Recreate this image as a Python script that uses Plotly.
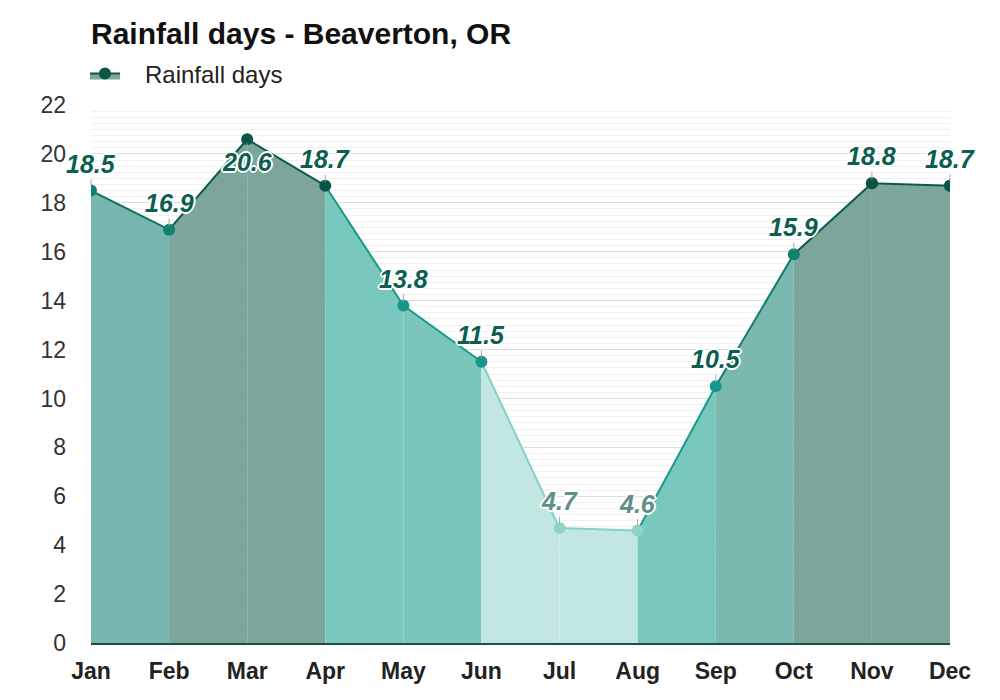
import plotly.graph_objects as go

months = ["Jan", "Feb", "Mar", "Apr", "May", "Jun", "Jul", "Aug", "Sep", "Oct", "Nov", "Dec"]
rain_days = [18.5, 16.9, 20.6, 18.7, 13.8, 11.5, 4.7, 4.6, 10.5, 15.9, 18.8, 18.7]

# colour per interval (left month) and per point
seg_fill = ["#76b6ac", "#7ca59c", "#7ca59c", "#78c8bd", "#7ac6bb", "#c2e6e2",
            "#c2e6e2", "#78c8bd", "#7bb9af", "#7ca59c", "#7ca59c"]
seg_line = ["#0f7464", "#0d5a4b", "#0d5a4b", "#169a8b", "#169a8b", "#86d1c7",
            "#86d1c7", "#169a8b", "#0f7d6d", "#0d5a4b", "#0d5a4b"]
point_color = ["#10806f", "#10806f", "#0c5446", "#0c5446", "#17968a", "#17968a",
               "#8fd3ca", "#8fd3ca", "#17968a", "#10806f", "#0c5446", "#0c5446"]
label_color = ["#0b5e50"] * 6 + ["#5e8f89", "#5e8f89"] + ["#0b5e50"] * 4
label_offset = [-27, -27, 23, -27, -27, -27, -27, -27, -27, -27, -27, -27]

fig = go.Figure()

for i in range(len(months) - 1):
    legend_seg = i == 10
    fig.add_trace(go.Scatter(
        x=months[i:i + 2], y=rain_days[i:i + 2],
        mode="lines+markers" if legend_seg else "lines",
        fill="tozeroy", fillcolor=seg_fill[i],
        line=dict(color=seg_line[i], width=2),
        marker=dict(color=point_color[i], size=12),
        name="\u00a0\u00a0\u00a0Rainfall days", showlegend=legend_seg, hoverinfo="skip",
    ))

fig.add_trace(go.Scatter(
    x=months, y=rain_days, mode="markers",
    marker=dict(color=point_color, size=12),
    showlegend=False, name="Rainfall days",
))

outline = ("1px 1px 0 #fff, -1px -1px 0 #fff, 1px -1px 0 #fff, -1px 1px 0 #fff, "
           "2px 0 0 #fff, -2px 0 0 #fff, 0 2px 0 #fff, 0 -2px 0 #fff")
for m, v, c, off in zip(months, rain_days, label_color, label_offset):
    fig.add_annotation(
        x=m, y=v, text=f"{v}", showarrow=True, arrowhead=0, arrowwidth=1,
        arrowcolor="#aaaaaa", ax=0, ay=off, standoff=4,
        font=dict(family="Liberation Sans, Arial", size=25, color=c,
                  weight="bold", style="italic", shadow=outline),
    )

fig.update_layout(
    width=1000, height=700,
    margin=dict(l=83, r=58, t=97, b=65),
    paper_bgcolor="white", plot_bgcolor="white",
    font=dict(family="Liberation Sans, Arial", color="#333"),
    title=dict(text="<b>Rainfall days - Beaverton, OR</b>", x=0.083, xanchor="left",
               y=0.964, yanchor="middle", font=dict(size=30, color="#111")),
    legend=dict(orientation="h", x=-0.007, xanchor="left", y=1.058, yanchor="middle",
                font=dict(size=24, color="#222"), bgcolor="rgba(0,0,0,0)"),
    showlegend=True,
)
fig.update_xaxes(
    type="category", range=[0, 11], showgrid=False,
    showline=True, linecolor="#1d4f47", linewidth=1.5,
    tickfont=dict(size=23, color="#222", weight="bold"), ticks="", ticklabelstandoff=7,
)
fig.update_yaxes(
    range=[0, 22], dtick=2, showgrid=True, gridcolor="#dddddd", gridwidth=1,
    minor=dict(dtick=0.25, showgrid=True, gridcolor="#f0f0f0", gridwidth=1),
    tickfont=dict(size=23, color="#333"), zeroline=False, ticklabelstandoff=24,
)

fig.write_html("out.html")
